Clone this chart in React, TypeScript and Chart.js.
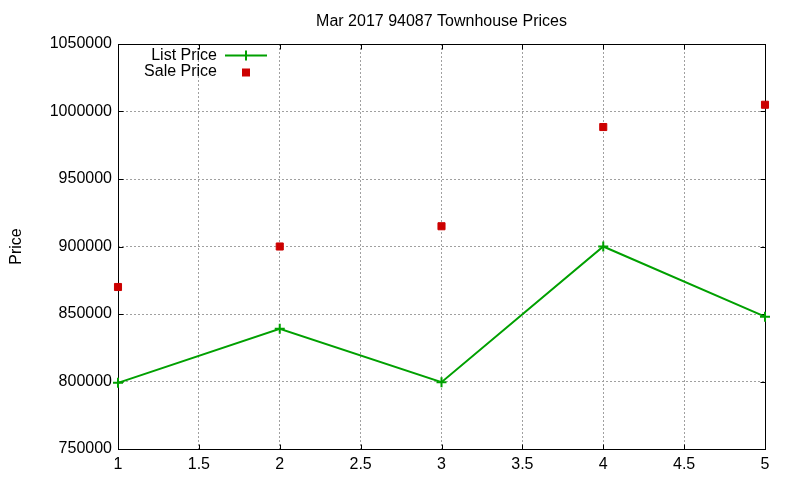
import React, { useEffect, useRef } from "react";
import { Chart, registerables } from "chart.js";

Chart.register(...registerables);

const chartTitle = "Mar 2017 94087 Townhouse Prices";
const yAxisTitle = "Price";
const xValues = [1, 2, 3, 4, 5];
const listPrice = [799000, 839000, 799500, 900000, 848000];
const salePrice = [870000, 900000, 915000, 988500, 1005000];
const xTickValues = [1, 1.5, 2, 2.5, 3, 3.5, 4, 4.5, 5];
const yTickValues = [750000, 800000, 850000, 900000, 950000, 1000000, 1050000];
const seriesLabels = ["List Price", "Sale Price"];

const GREEN = "#00a000";
const RED = "#cc0000";
const FONT = '"Liberation Sans", Arial, Helvetica, sans-serif';

const framePlugin = {
  id: "frame",
  beforeDatasetsDraw(chart: any) {
    const { ctx, chartArea } = chart;
    const l = Math.round(chartArea.left) + 0.5;
    const r = Math.round(chartArea.right) + 0.5;
    const t = Math.round(chartArea.top) + 0.5;
    const b = Math.round(chartArea.bottom) + 0.5;
    ctx.save();
    ctx.strokeStyle = "#000";
    ctx.lineWidth = 1;
    ctx.setLineDash([]);
    ctx.strokeRect(l, t, r - l, b - t);
    const tl = 5;
    ctx.beginPath();
    const ys = chart.scales.y;
    yTickValues.forEach((v) => {
      const p = Math.round(ys.getPixelForValue(v)) + 0.5;
      ctx.moveTo(l, p);
      ctx.lineTo(l + tl, p);
      ctx.moveTo(r, p);
      ctx.lineTo(r - tl, p);
    });
    const xs = chart.scales.x;
    xTickValues.forEach((v) => {
      const p = Math.round(xs.getPixelForValue(v)) + 0.5;
      ctx.moveTo(p, b);
      ctx.lineTo(p, b - tl);
      ctx.moveTo(p, t);
      ctx.lineTo(p, t + tl);
    });
    ctx.stroke();
    ctx.restore();
  },
  afterDraw(chart: any) {
    const { ctx, chartArea } = chart;
    const left = chartArea.left;
    const top = chartArea.top;
    ctx.save();
    ctx.font = "16px " + FONT;
    ctx.textAlign = "right";
    ctx.textBaseline = "middle";
    ctx.fillStyle = "#000";
    const textX = left + 99;
    const sampleL = left + 107;
    const sampleR = left + 149;
    const sampleC = left + 128;
    chart.data.datasets.forEach((ds: any, i: number) => {
      const y = top + 11.5 + i * 16;
      ctx.fillStyle = "#000";
      ctx.fillText(ds.label, textX, y);
      if (i === 0) {
        ctx.strokeStyle = ds.borderColor;
        ctx.lineWidth = 2;
        ctx.beginPath();
        ctx.moveTo(sampleL, y);
        ctx.lineTo(sampleR, y);
        ctx.moveTo(sampleC, y - 5);
        ctx.lineTo(sampleC, y + 5);
        ctx.stroke();
      } else {
        ctx.fillStyle = ds.backgroundColor;
        ctx.fillRect(sampleC - 4, y - 3, 8, 8);
      }
    });
    ctx.restore();
  },
};

export default function App() {
  const ref = useRef<HTMLCanvasElement | null>(null);

  useEffect(() => {
    if (!ref.current) return;
    Chart.defaults.font.family = FONT;
    Chart.defaults.color = "#000";
    const chart = new Chart(ref.current, {
      type: "line",
      data: {
        datasets: [
          {
            label: seriesLabels[0],
            data: xValues.map((x, i) => ({ x, y: listPrice[i] })),
            borderColor: GREEN,
            backgroundColor: GREEN,
            borderWidth: 2,
            pointStyle: "cross",
            pointRadius: 5,
            pointBorderWidth: 2,
            pointBorderColor: GREEN,
            tension: 0,
            clip: false,
            order: 2,
          },
          {
            label: seriesLabels[1],
            data: xValues.map((x, i) => ({ x, y: salePrice[i] })),
            borderColor: RED,
            backgroundColor: RED,
            showLine: false,
            pointStyle: "rect",
            pointRadius: 5,
            pointBorderWidth: 1,
            pointBorderColor: RED,
            pointBackgroundColor: RED,
            clip: false,
            order: 1,
          },
        ] as any,
      },
      options: {
        responsive: false,
        animation: false,
        devicePixelRatio: 1,
        events: [],
        layout: { padding: { left: 0, right: 35, top: 0, bottom: 0 } },
        plugins: {
          legend: { display: false },
          tooltip: { enabled: false },
          title: {
            display: true,
            text: chartTitle,
            fullSize: false,
            font: { size: 16, weight: "normal" as any, family: FONT },
            color: "#000",
            padding: { top: 12.4, bottom: 12.4 },
          },
        },
        scales: {
          x: {
            type: "linear",
            min: 1,
            max: 5,
            afterBuildTicks: (scale: any) => {
              scale.ticks = xTickValues.map((v) => ({ value: v }));
            },
            afterFit: (scale: any) => {
              scale.height = 31;
            },
            ticks: {
              font: { size: 16, family: FONT },
              color: "#000",
              padding: 6,
              maxRotation: 0,
              autoSkip: false,
              callback: (v: any) => String(v),
            },
            grid: { color: "#a0a0a0", lineWidth: 1, drawTicks: false },
            border: { display: false, dash: [2, 2] },
          },
          y: {
            type: "linear",
            min: 750000,
            max: 1050000,
            afterBuildTicks: (scale: any) => {
              scale.ticks = yTickValues.map((v) => ({ value: v }));
            },
            afterFit: (scale: any) => {
              scale.width = 118;
            },
            ticks: {
              font: { size: 16, family: FONT },
              color: "#000",
              padding: 6,
              autoSkip: false,
              callback: (v: any) => String(v),
            },
            grid: { color: "#a0a0a0", lineWidth: 1, drawTicks: false },
            border: { display: false, dash: [2, 2] },
            title: {
              display: true,
              text: yAxisTitle,
              font: { size: 16, family: FONT },
              color: "#000",
              padding: { top: 7, bottom: 0 },
            },
          },
        },
      },
      plugins: [framePlugin],
    });
    return () => chart.destroy();
  }, []);

  return (
    <div style={{ position: "absolute", left: 0, top: 0, width: 800, height: 480, background: "#fff" }}>
      <canvas ref={ref} width={800} height={480} style={{ display: "block" }} />
    </div>
  );
}
